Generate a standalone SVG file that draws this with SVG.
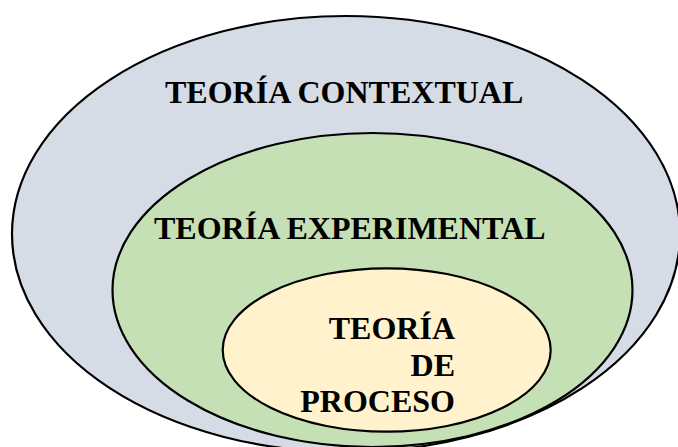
<svg xmlns="http://www.w3.org/2000/svg" width="678" height="447" viewBox="0 0 678 447">
  <style>
    .ring { stroke: #000; stroke-width: 2.2; }
    .lbl { font-family: "Liberation Serif", "Times New Roman", serif; font-weight: bold; font-size: 32px; fill: #000; }
  </style>
  <rect width="678" height="447" fill="#fff"/>
  <g id="contextual">
    <ellipse class="ring" cx="346" cy="234" rx="334" ry="218" fill="#D6DCE5"/>
    <text class="lbl" x="165" y="103">TEORÍA CONTEXTUAL</text>
  </g>
  <g id="experimental">
    <ellipse class="ring" cx="372.5" cy="290" rx="260" ry="157" fill="#C5E0B4"/>
    <text class="lbl" x="154" y="239">TEORÍA EXPERIMENTAL</text>
  </g>
  <g id="proceso">
    <ellipse class="ring" cx="386.7" cy="350" rx="164" ry="81.7" fill="#FFF2CC"/>
    <text class="lbl" text-anchor="end" x="455" y="339">TEORÍA</text>
    <text class="lbl" text-anchor="end" x="455" y="376">DE</text>
    <text class="lbl" text-anchor="end" x="455" y="412">PROCESO</text>
  </g>
  <g id="connectors"/>
</svg>
